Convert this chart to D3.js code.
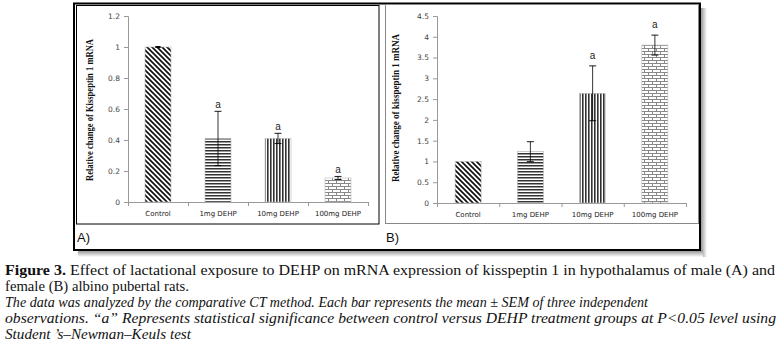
<!DOCTYPE html>
<html><head><meta charset="utf-8">
<script src="https://cdn.jsdelivr.net/npm/d3@7"></script>
<style>
html,body{margin:0;padding:0;background:#fff;}
svg{display:block;}
</style></head>
<body>
<svg id="c" width="782" height="355"></svg>
<script>
const categories = ["Control", "1mg DEHP", "10mg DEHP", "100mg DEHP"];
const maleMeans = [1.0, 0.41, 0.41, 0.155];
const maleSEM = [0, 0.175, 0.033, 0.01];
const maleSig = ["", "a", "a", "a"];
const femaleMeans = [1.0, 1.235, 2.64, 3.8];
const femaleSEM = [null, 0.24, 0.66, 0.24];
const femaleSig = ["", "", "a", "a"];
const maleTicks = [0, 0.2, 0.4, 0.6, 0.8, 1, 1.2];
const femaleTicks = [0, 0.5, 1, 1.5, 2, 2.5, 3, 3.5, 4, 4.5];
const patterns = ["pDiag", "pHoriz", "pVert", "pBrick"];
const captionLines = [
  {parts: [{t: "Figure 3.", b: true}, {t: " Effect of lactational exposure to DEHP on mRNA expression of kisspeptin 1 in hypothalamus of male (A) and"}], w: 770, it: false},
  {parts: [{t: "female (B) albino pubertal rats."}], w: 184, it: false},
  {parts: [{t: "The data was analyzed by the comparative CT method. Each bar represents the mean \u00b1 SEM of three independent"}], w: 643, it: true},
  {parts: [{t: "observations. \u201ca\u201d Represents statistical significance between control versus DEHP treatment groups at P<0.05 level using"}], w: 771, it: true},
  {parts: [{t: "Student \u2019s\u2013Newman\u2013Keuls test"}], w: 186, it: true}
];

const svg = d3.select("#c");
const defs = svg.append("defs");

// patterns
const pd = defs.append("pattern").attr("id", "pDiag").attr("patternUnits", "userSpaceOnUse").attr("width", 5).attr("height", 5);
pd.append("rect").attr("width", 5).attr("height", 5).attr("fill", "#fff");
pd.append("path").attr("d", "M0,0L5,5M-1,4L1,6M4,-1L6,1").attr("stroke", "#111").attr("stroke-width", 1.7);
const ph = defs.append("pattern").attr("id", "pHoriz").attr("patternUnits", "userSpaceOnUse").attr("width", 4).attr("height", 3);
ph.append("rect").attr("width", 4).attr("height", 3).attr("fill", "#fff");
ph.append("rect").attr("y", 0).attr("width", 4).attr("height", 1.5).attr("fill", "#333");
const pv = defs.append("pattern").attr("id", "pVert").attr("patternUnits", "userSpaceOnUse").attr("width", 3).attr("height", 4);
pv.append("rect").attr("width", 3).attr("height", 4).attr("fill", "#fff");
pv.append("rect").attr("x", 0).attr("width", 1.6).attr("height", 4).attr("fill", "#333");
const pb = defs.append("pattern").attr("id", "pBrick").attr("patternUnits", "userSpaceOnUse").attr("width", 8).attr("height", 6);
pb.append("rect").attr("width", 8).attr("height", 6).attr("fill", "#fff");
pb.append("path").attr("d", "M0,0.5H8M0,3.5H8M0.5,0.5V3.5M4.5,3.5V6.5").attr("stroke", "#888").attr("stroke-width", 1).attr("fill", "none");

// shadow gradients
const gR = defs.append("linearGradient").attr("id", "shR").attr("x1", 0).attr("x2", 1).attr("y1", 0).attr("y2", 0);
gR.append("stop").attr("offset", 0).attr("stop-color", "#888");
gR.append("stop").attr("offset", 1).attr("stop-color", "#fff");
const gB = defs.append("linearGradient").attr("id", "shB").attr("x1", 0).attr("x2", 0).attr("y1", 0).attr("y2", 1);
gB.append("stop").attr("offset", 0).attr("stop-color", "#888");
gB.append("stop").attr("offset", 1).attr("stop-color", "#fff");

// outer frame with shadow
svg.append("rect").attr("x", 700).attr("y", 8).attr("width", 7).attr("height", 249).attr("fill", "url(#shR)");
svg.append("rect").attr("x", 78).attr("y", 250).attr("width", 625).attr("height", 7).attr("fill", "url(#shB)");
svg.append("rect").attr("x", 74).attr("y", 3.5).attr("width", 626).attr("height", 246.5).attr("fill", "#fff").attr("stroke", "#000").attr("stroke-width", 2);

// panel boxes
svg.append("rect").attr("x", 76.5).attr("y", 5.5).attr("width", 302.5).attr("height", 218.5).attr("fill", "none").attr("stroke", "#000").attr("stroke-width", 1);
svg.append("rect").attr("x", 385.5).attr("y", 4.5).attr("width", 313).attr("height", 219).attr("fill", "none").attr("stroke", "#888").attr("stroke-width", 1);

function panel(cfg) {
  const g = svg.append("g");
  const y = d3.scaleLinear().domain([0, cfg.max]).range([cfg.y0, cfg.y1]);
  const x = d3.scaleBand().domain(categories).range([cfg.x0, cfg.x1]).paddingInner(cfg.pi).paddingOuter(cfg.pi / 2);
  const xi = d3.scaleLinear().domain([0, categories.length]).range([cfg.x0, cfg.x1]);

  const ya = g.append("g").attr("transform", `translate(${cfg.x0},0)`)
    .call(d3.axisLeft(y).tickValues(cfg.ticks).tickSize(4).tickPadding(4).tickFormat(d3.format("")));
  ya.select(".domain").attr("stroke", "#999");
  ya.selectAll(".tick line").attr("stroke", "#999");
  ya.selectAll(".tick text").attr("fill", "#444").style("font-family", "DejaVu Sans").style("font-size", "7.5px");

  const xa = g.append("g").attr("transform", `translate(0,${cfg.y0})`)
    .call(d3.axisBottom(xi).tickValues(d3.range(categories.length + 1)).tickSize(4).tickFormat(""));
  xa.select(".domain").attr("stroke", "#999");
  xa.selectAll(".tick line").attr("stroke", "#999");

  const xl = g.append("g").attr("transform", `translate(0,${cfg.y0})`)
    .call(d3.axisBottom(x).tickSize(0).tickPadding(9));
  xl.select(".domain").remove();
  xl.selectAll(".tick text").attr("fill", "#222").style("font-family", "DejaVu Sans").style("font-size", "7px");

  g.selectAll("rect.bar").data(cfg.means).join("rect").attr("class", "bar")
    .attr("x", (d, i) => x(categories[i]))
    .attr("width", x.bandwidth())
    .attr("y", d => y(d))
    .attr("height", d => y(0) - y(d))
    .attr("fill", (d, i) => `url(#${patterns[i]})`)
    .attr("stroke", "#bbb").attr("stroke-width", 0.6);

  cfg.means.forEach((m, i) => {
    const s = cfg.sem[i];
    if (s === null) return;
    const cx = x(categories[i]) + x.bandwidth() / 2;
    g.append("line").attr("x1", cx).attr("x2", cx).attr("y1", y(m - s)).attr("y2", y(m + s)).attr("stroke", "#000").attr("stroke-width", 0.8);
    const hw = s === 0 ? 2.5 : 3.5;
    [m - s, m + s].forEach(v => {
      g.append("line").attr("x1", cx - hw).attr("x2", cx + hw).attr("y1", y(v)).attr("y2", y(v)).attr("stroke", "#000").attr("stroke-width", s === 0 ? 1.6 : 0.9);
    });
  });

  cfg.sig.forEach((s, i) => {
    if (!s) return;
    const cx = x(categories[i]) + x.bandwidth() / 2;
    const top = cfg.means[i] + (cfg.sem[i] || 0);
    g.append("text").attr("x", cx).attr("y", y(top) - cfg.sigOff).attr("text-anchor", "middle")
      .attr("fill", "#222").style("font-family", "Liberation Sans").style("font-size", "10px").text(s);
  });

  g.append("text").attr("transform", `translate(${cfg.tx},${cfg.ty}) rotate(-90)`)
    .attr("text-anchor", "middle").attr("textLength", cfg.tl).attr("lengthAdjust", "spacingAndGlyphs")
    .style("font-family", "Liberation Serif").style("font-weight", "bold").style("font-size", "9.5px")
    .attr("fill", "#111").text(cfg.title);

  g.append("text").attr("x", cfg.lx).attr("y", 242).style("font-family", "Liberation Sans").style("font-size", "13px").attr("fill", "#111").text(cfg.label);
}

panel({x0: 128, x1: 368, y0: 202, y1: 16, max: 1.2, pi: 0.567, ticks: maleTicks, means: maleMeans, sem: maleSEM, sig: maleSig, sigOff: 3,
  tx: 93, ty: 110, tl: 142, title: "Relative change of Kisspeptin 1 mRNA", lx: 77, label: "A)"});
panel({x0: 437, x1: 686, y0: 203, y1: 16, max: 4.5, pi: 0.582, ticks: femaleTicks, means: femaleMeans, sem: femaleSEM, sig: femaleSig, sigOff: 7,
  tx: 399, ty: 108, tl: 148, title: "Relative change of kisspeptin 1 mRNA", lx: 386, label: "B)"});

// caption
const baselines = [275, 291, 307, 323, 339];
captionLines.forEach((ln, i) => {
  const t = svg.append("text").attr("x", 5).attr("y", baselines[i])
    .attr("textLength", ln.w).attr("lengthAdjust", "spacingAndGlyphs")
    .style("font-family", "Liberation Serif").style("font-size", "14px").attr("fill", "#111")
    .style("font-style", ln.it ? "italic" : "normal");
  ln.parts.forEach(p => t.append("tspan").style("font-weight", p.b ? "bold" : "normal").text(p.t));
});
</script>
</body></html>
